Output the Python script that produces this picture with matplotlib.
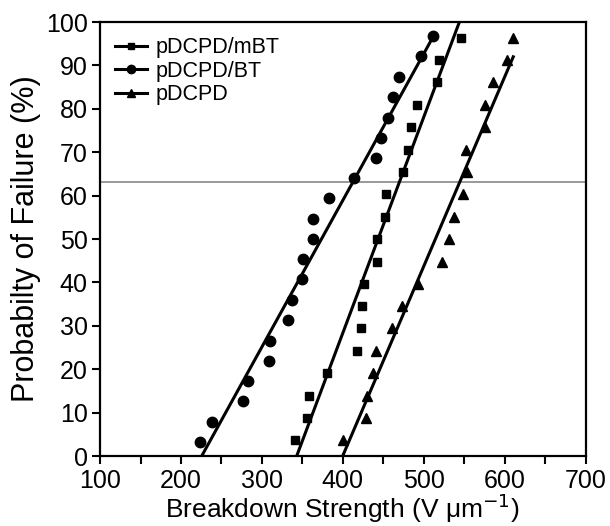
import numpy as np
import matplotlib
matplotlib.use('Agg')
from matplotlib import pyplot as plt
from matplotlib.ticker import MultipleLocator

plt.rcParams['font.family'] = ['Liberation Sans', 'DejaVu Sans']

# datos: resistencia de ruptura (V/um) y probabilidad de fallo (%)
bt_x = [223.5, 238, 276.3, 282.5, 309.1, 310, 332.6, 336.7, 349, 350.3, 363.5,
        363.5, 383.3, 414.2, 441, 447.1, 456.2, 461.4, 469.8, 496.5, 511]
bt_y = [3.3, 7.9, 12.6, 17.3, 22.0, 26.6, 31.3, 36.0, 40.7, 45.3, 50.0,
        54.7, 59.4, 64.0, 68.7, 73.4, 78.0, 82.7, 87.4, 92.1, 96.7]

mbt_x = [340.9, 356.1, 358.6, 380, 417.8, 422.7, 424, 426, 442.5, 441.8,
         452.5, 453, 473.8, 480.9, 484.2, 492, 515.8, 519.2, 546]
mbt_y = [3.6, 8.8, 13.9, 19.1, 24.2, 29.4, 34.5, 39.7, 44.8, 50.0,
         55.2, 60.3, 65.5, 70.6, 75.8, 80.9, 86.1, 91.2, 96.4]

pd_x = [400.6, 428.2, 429.4, 437.6, 440.5, 461, 473.3, 493.2, 522.8, 531.1,
        537.3, 548, 553, 552.1, 575.6, 575.6, 585, 602.3, 610.5]
pd_y = [3.6, 8.8, 13.9, 19.1, 24.2, 29.4, 34.5, 39.7, 44.8, 50.0,
        55.2, 60.3, 65.5, 70.6, 75.8, 80.9, 86.1, 91.2, 96.4]

# rectas de ajuste (extremos leidos)
bt_fit_x, bt_fit_y = [225.6, 511.5], [0, 96.6]
mbt_fit_x, mbt_fit_y = [343, 544], [0, 100]
pd_fit_x, pd_fit_y = [399.8, 610.6], [0, 92]

p_63 = 63.2  # 1 - 1/e

fig = plt.figure(figsize=(6.1, 5.26), dpi=100)
ax = fig.add_axes([0.164, 0.133, 0.796, 0.825])

ax.axhline(p_63, color='#999999', lw=1.4, zorder=1)

ax.plot(mbt_fit_x, mbt_fit_y, color='black', lw=2.2, zorder=2)
ax.plot(bt_fit_x, bt_fit_y, color='black', lw=2.2, zorder=2)
ax.plot(pd_fit_x, pd_fit_y, color='black', lw=2.2, zorder=2)

ax.plot(mbt_x, mbt_y, 's', color='black', ms=6, zorder=3)
ax.plot(bt_x, bt_y, 'o', color='black', ms=7.5, zorder=3)
ax.plot(pd_x, pd_y, '^', color='black', ms=7.5, zorder=3)

# leyenda con linea + marcador
h1, = ax.plot([], [], '-s', color='black', lw=2.2, ms=5)
h2, = ax.plot([], [], '-o', color='black', lw=2.2, ms=6)
h3, = ax.plot([], [], '-^', color='black', lw=2.2, ms=6)
ax.legend([h1, h2, h3], ['pDCPD/mBT', 'pDCPD/BT', 'pDCPD'], loc='upper left',
          frameon=False, fontsize=15.5, handlelength=1.5, handletextpad=0.4,
          labelspacing=0.12, borderaxespad=0.3, borderpad=0.4)

ax.set_xlim(100, 700)
ax.set_ylim(0, 100)
ax.xaxis.set_major_locator(MultipleLocator(100))
ax.xaxis.set_minor_locator(MultipleLocator(50))
ax.yaxis.set_major_locator(MultipleLocator(10))
ax.tick_params(axis='both', which='both', direction='out', length=6, width=1.5,
               labelsize=18)
ax.tick_params(axis='x', pad=3)
ax.tick_params(axis='y', pad=3)
ax.tick_params(axis='y', which='minor', left=False)

for s in ax.spines.values():
    s.set_linewidth(1.6)

ax.set_xlabel('Breakdown Strength (V μm$^{-1}$)', fontsize=19, labelpad=-1)
ax.set_ylabel('Probabilty of Failure (%)', fontsize=22, labelpad=3)

plt.savefig('out.png', dpi=100)
